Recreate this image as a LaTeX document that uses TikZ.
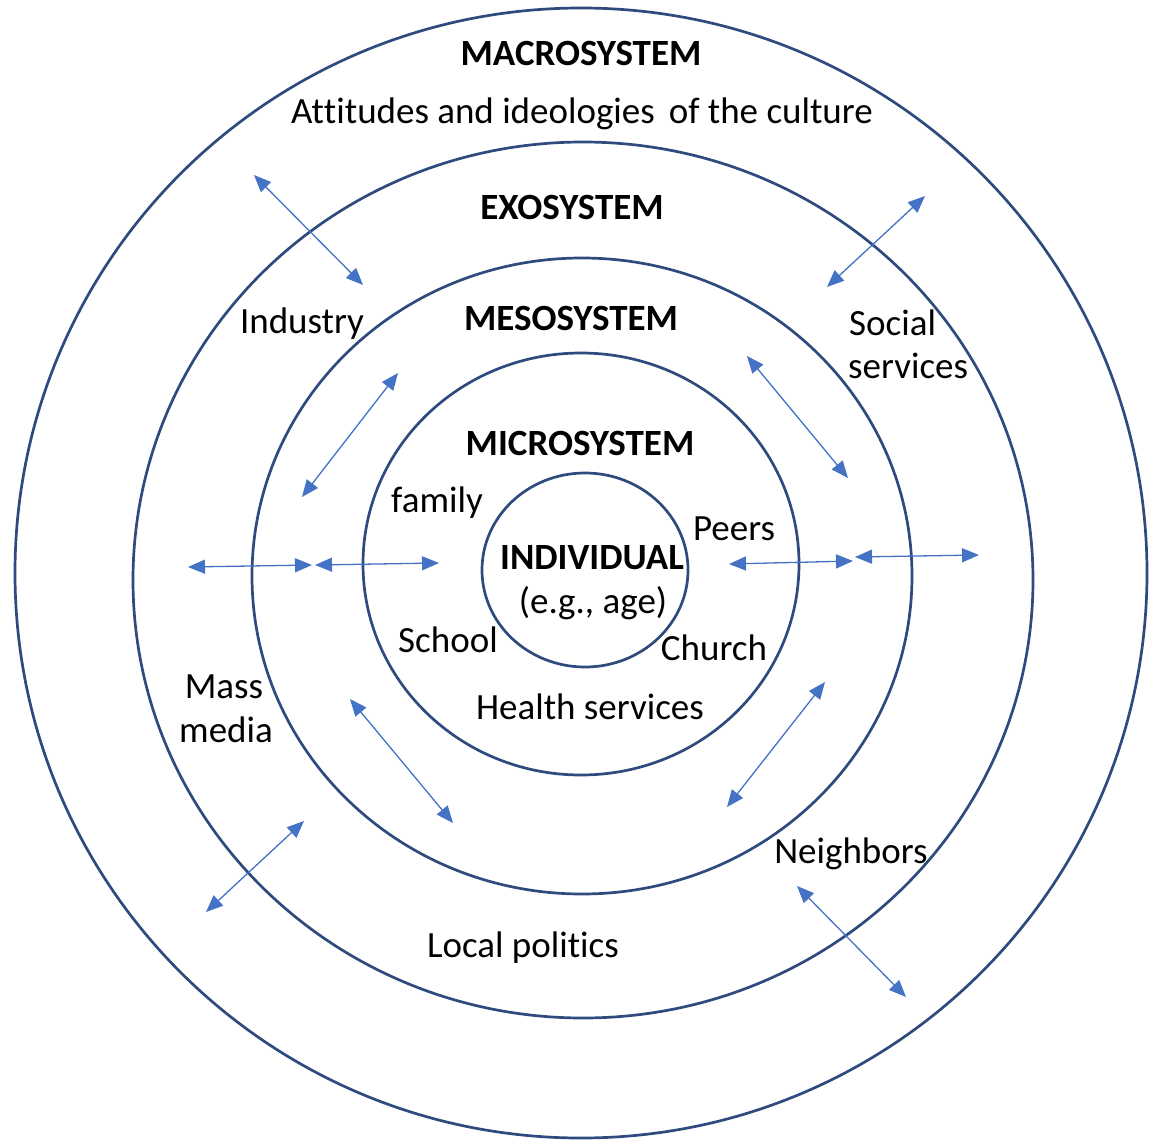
\documentclass[tikz,border=0pt]{standalone}
\usepackage{fontspec}
\setmainfont[Ligatures=NoCommon,RawFeature={-liga;-clig;-calt;-dlig}]{Carlito}
\usetikzlibrary{arrows.meta}
\definecolor{ringc}{HTML}{2F4B7E}
\definecolor{arrc}{HTML}{4472C4}
\begin{document}
\begin{tikzpicture}[x=1pt,y=-1pt,
  ring/.style={draw=ringc, line width=2.7pt},
  link/.style={draw=arrc, line width=1.3pt,
    {Triangle[length=17pt,width=14pt]}-{Triangle[length=17pt,width=14pt]}},
  lbl/.style={font=\fontsize{37}{45}\selectfont, inner sep=0pt, anchor=base, text=black},
  head/.style={lbl, font=\fontsize{37}{45}\selectfont\bfseries}]
\useasboundingbox[fill=white] (0,0) rectangle (1157,1140);

% rings
\draw[ring] (581,573) ellipse [x radius=566pt, y radius=565pt];
\draw[ring] (583,580) ellipse [x radius=450pt, y radius=438pt];
\draw[ring] (582,576) ellipse [x radius=330pt, y radius=318pt];
\draw[ring] (581,564) ellipse [x radius=218pt, y radius=211pt];
\draw[ring] (585,570) ellipse [x radius=103pt, y radius=97pt];

% labels
\node[head] (macro) at (581,66) {MACROSYSTEM};
\node[lbl] (att) at (582,123) {At\kern0pt titudes and ideologies\hspace{0.15em} of the culture};
\node[head] (exo) at (572,219) {EXOSYSTEM};
\node[lbl] (ind) at (302,333) {Industry};
\node[head] (meso) at (571,330) {MESOSYSTEM};
\node[lbl, anchor=base west] (soc) at (849,335) {Social};
\node[lbl, anchor=base west] (serv) at (848,378) {services};
\node[head] (micro) at (580,455) {MICROSYSTEM};
\node[lbl] (fam) at (437,512) {family};
\node[lbl] (peers) at (734,540) {Peers};
\node[head] (indiv) at (592,569) {INDIVIDUAL};
\node[lbl] (eg) at (593,613) {(e.g., age)};
\node[lbl] (school) at (448,652) {School};
\node[lbl] (church) at (714,660) {Church};
\node[lbl] (health) at (590,719) {Health services};
\node[lbl] (mass) at (224,698) {Mass};
\node[lbl] (media) at (226,742) {media};
\node[lbl] (neigh) at (851,863) {Neighbors};
\node[lbl] (local) at (523,957) {Local politics};

% arrow end points
\coordinate (a1) at (254,175);  \coordinate (b1) at (363,285);
\coordinate (a2) at (925,196);  \coordinate (b2) at (827,287);
\coordinate (a3) at (747,356);  \coordinate (b3) at (848,478);
\coordinate (a4) at (398,373);  \coordinate (b4) at (302,497);
\coordinate (a5) at (188,567);  \coordinate (b5) at (312,565);
\coordinate (a6) at (315,565);  \coordinate (b6) at (439,563);
\coordinate (a7) at (729,564);  \coordinate (b7) at (853,561);
\coordinate (a8) at (855,557);  \coordinate (b8) at (979,555);
\coordinate (a9) at (825,682);  \coordinate (b9) at (727,807);
\coordinate (a10) at (797,886); \coordinate (b10) at (906,997);
\coordinate (a11) at (350,699); \coordinate (b11) at (453,823);
\coordinate (a12) at (304,821); \coordinate (b12) at (206,912);

\foreach \i in {1,...,12} {\draw[link] (a\i) -- (b\i);}
\end{tikzpicture}
\end{document}
